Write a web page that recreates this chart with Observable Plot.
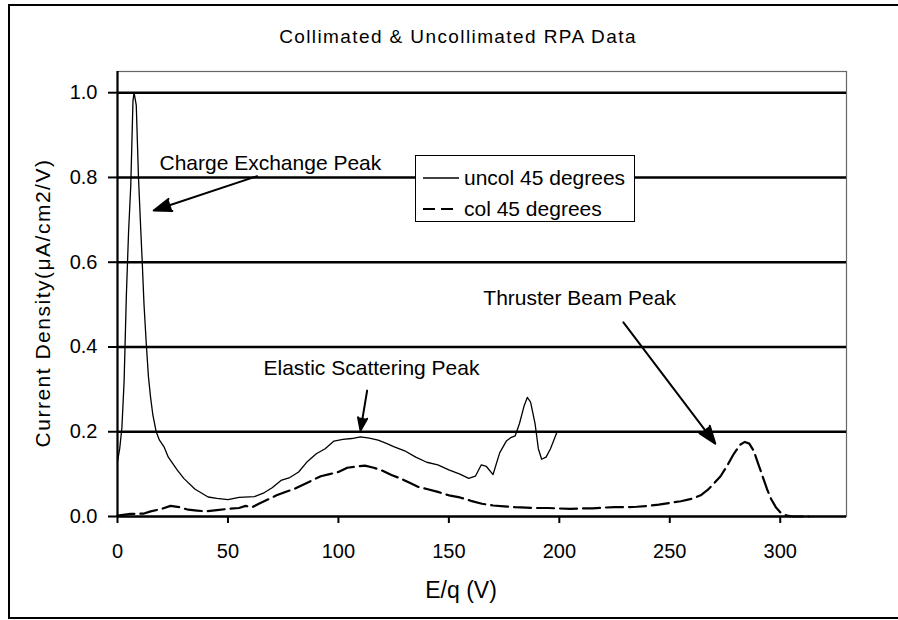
<!DOCTYPE html>
<html>
<head>
<meta charset="utf-8">
<script src="https://cdn.jsdelivr.net/npm/d3@7"></script>
<script src="https://cdn.jsdelivr.net/npm/@observablehq/plot@0.6"></script>
<style>
  html, body { margin: 0; padding: 0; background: #fff; }
  #wrap { position: relative; width: 898px; height: 620px; overflow: hidden; font-family: "Liberation Sans", Arial, sans-serif; color: #000; }
  #frame { position: absolute; left: 8px; top: 4px; width: 960px; height: 615px; border: 2px solid #000; box-sizing: border-box; }
  #title { height: 60px; box-sizing: border-box; padding-top: 27px; padding-left: 18px; text-align: center; font-size: 19px; line-height: 20px; letter-spacing: 1.4px; }
  #legend { position: absolute; left: 415px; top: 155px; width: 220px; height: 67px; border: 1.5px solid #000; box-sizing: border-box; background: #fff; font-size: 21px; }
  #legend .row { position: absolute; left: 7px; height: 24px; display: flex; align-items: center; }
  #legend svg { margin-right: 5px; }
</style>
</head>
<body>
<div id="wrap">
  <div id="frame"></div>
  <div id="title"></div>
  <div id="chart"></div>
  <div id="legend"></div>
</div>
<script>
// ---- data ----
const uncolX = [0,1,2,3,4,5,6,7,7.5,8.5,9.5,10.5,11.2,12,13,14,15,16,17.5,19,21,23,27,30,35,41,45,50,55,62,66,70,74,78,82,86,90,94,98,102,106,110,114,118,122,125,130,135,140,145,150,155,159,162,164.7,167,170,173,176,178,180,182,184,185.5,187,189,190.5,192,194,196,199];
const uncolY = [0.13,0.16,0.21,0.32,0.52,0.67,0.78,0.98,1.0,0.97,0.8,0.68,0.6,0.5,0.41,0.33,0.28,0.24,0.2,0.18,0.165,0.14,0.11,0.09,0.065,0.046,0.043,0.04,0.045,0.047,0.055,0.068,0.085,0.092,0.105,0.13,0.148,0.16,0.178,0.182,0.184,0.188,0.185,0.18,0.172,0.165,0.155,0.14,0.128,0.122,0.11,0.1,0.09,0.095,0.122,0.118,0.099,0.15,0.178,0.186,0.19,0.22,0.26,0.281,0.27,0.22,0.16,0.135,0.14,0.16,0.2];

const colX = [0,6,12,15,20,24,28,32,36,40,45,50,55,58,61,64,68,72,76,80,84,88,92,96,100,104,108,112,116,120,124,128,132,136,140,145,150,155,160,165,170,175,180,185,190,195,200,205,210,215,220,225,230,235,240,245,250,255,260,264,267,270,273,276,279,282,284,286,288,290,292,294,296,298,300,303,306,313];
const colY = [0.002,0.006,0.007,0.012,0.018,0.025,0.022,0.016,0.014,0.012,0.015,0.018,0.02,0.025,0.022,0.03,0.04,0.05,0.058,0.065,0.075,0.085,0.095,0.1,0.105,0.115,0.118,0.12,0.115,0.108,0.098,0.09,0.08,0.07,0.065,0.058,0.05,0.045,0.037,0.03,0.026,0.024,0.022,0.021,0.02,0.02,0.019,0.018,0.019,0.019,0.021,0.022,0.022,0.023,0.025,0.028,0.032,0.036,0.042,0.05,0.062,0.078,0.095,0.12,0.148,0.17,0.176,0.172,0.155,0.125,0.095,0.065,0.04,0.022,0.01,0.002,0,0];

const xTicks = [0,50,100,150,200,250,300];
const yTicks = [0,0.2,0.4,0.6,0.8,1.0];

const seriesNames = ["uncol 45 degrees", "col 45 degrees"];
const titleText = "Collimated & Uncollimated RPA Data";
const xLabel = "E/q (V)";
const yLabel = "Current Density(\u03BCA/cm2/V)";

const labelTexts = ["Charge Exchange Peak", "Elastic Scattering Peak", "Thruster Beam Peak"];
const labelX = [19.0, 66.1, 165.6];
const labelY = [0.833, 0.349, 0.516];
const arrowX1 = [63.2, 113.0, 229.0];
const arrowY1 = [0.803, 0.297, 0.458];
const arrowX2 = [16.4, 110.0, 270.6];
const arrowY2 = [0.722, 0.203, 0.172];

// ---- build tables ----
const uncol = uncolX.map((x, i) => ({x, y: uncolY[i]}));
const col = colX.map((x, i) => ({x, y: colY[i]}));
const labels = labelTexts.map((t, i) => ({t, x: labelX[i], y: labelY[i]}));
const arrows = arrowX1.map((x1, i) => ({x1, y1: arrowY1[i], x2: arrowX2[i], y2: arrowY2[i]}));

document.getElementById("title").textContent = titleText;

const chart = Plot.plot({
  width: 898,
  height: 560,
  marginTop: 11,
  marginBottom: 104,
  marginLeft: 117,
  marginRight: 52,
  style: {fontFamily: "Liberation Sans, Arial, sans-serif", fontSize: "20px", color: "#000", background: "transparent"},
  x: {domain: [0, 330]},
  y: {domain: [0, 1.05]},
  marks: [
    Plot.frame({stroke: "#666", strokeWidth: 1.2}),
    Plot.ruleY(yTicks, {stroke: "#000", strokeWidth: 2.5}),
    Plot.ruleX([0], {stroke: "#000", strokeWidth: 2.2}),
    Plot.axisY({ticks: yTicks, tickFormat: d3.format(".1f"), tickSize: 9, tickPadding: 11, strokeWidth: 2, label: null}),
    Plot.axisX({ticks: xTicks, tickSize: 7, tickPadding: 20, strokeWidth: 2, label: null}),
    Plot.line(uncol, {x: "x", y: "y", stroke: "#000", strokeWidth: 1.3}),
    Plot.line(col, {x: "x", y: "y", stroke: "#000", strokeWidth: 2.2, strokeDasharray: "17,6"}),
    Plot.text(labels, {x: "x", y: "y", text: "t", textAnchor: "start", fontSize: 21, fill: "#000"}),
    Plot.arrow(arrows, {x1: "x1", y1: "y1", x2: "x2", y2: "y2", stroke: "#000", strokeWidth: 2, headLength: 14, headAngle: 40}),
    Plot.text([xLabel], {frameAnchor: "bottom", dx: -21, dy: 81, fontSize: 23, fill: "#000"}),
    Plot.text([yLabel], {frameAnchor: "left", textAnchor: "middle", rotate: -90, dx: -74, dy: 9, fontSize: 21, fill: "#000"})
  ]
});
document.getElementById("chart").appendChild(chart);

// filled arrow heads and spaced axis title
d3.select(chart).selectAll('g[aria-label="arrow"] path').attr("fill", "#000");
d3.select(chart).selectAll("text").filter(function () { return this.textContent === yLabel; }).attr("letter-spacing", "1.5px");

// legend
const legend = document.getElementById("legend");
const dashes = [null, "12,6"];
seriesNames.forEach((name, i) => {
  const row = document.createElement("div");
  row.className = "row";
  row.style.top = (i === 0 ? 10 : 41) + "px";
  row.innerHTML = `<svg width="36" height="10"><line x1="0" y1="5" x2="36" y2="5" stroke="#000" stroke-width="${i === 0 ? 1.5 : 2}" ${dashes[i] ? `stroke-dasharray="${dashes[i]}"` : ""}/></svg><span>${name}</span>`;
  legend.appendChild(row);
});
</script>
</body>
</html>
